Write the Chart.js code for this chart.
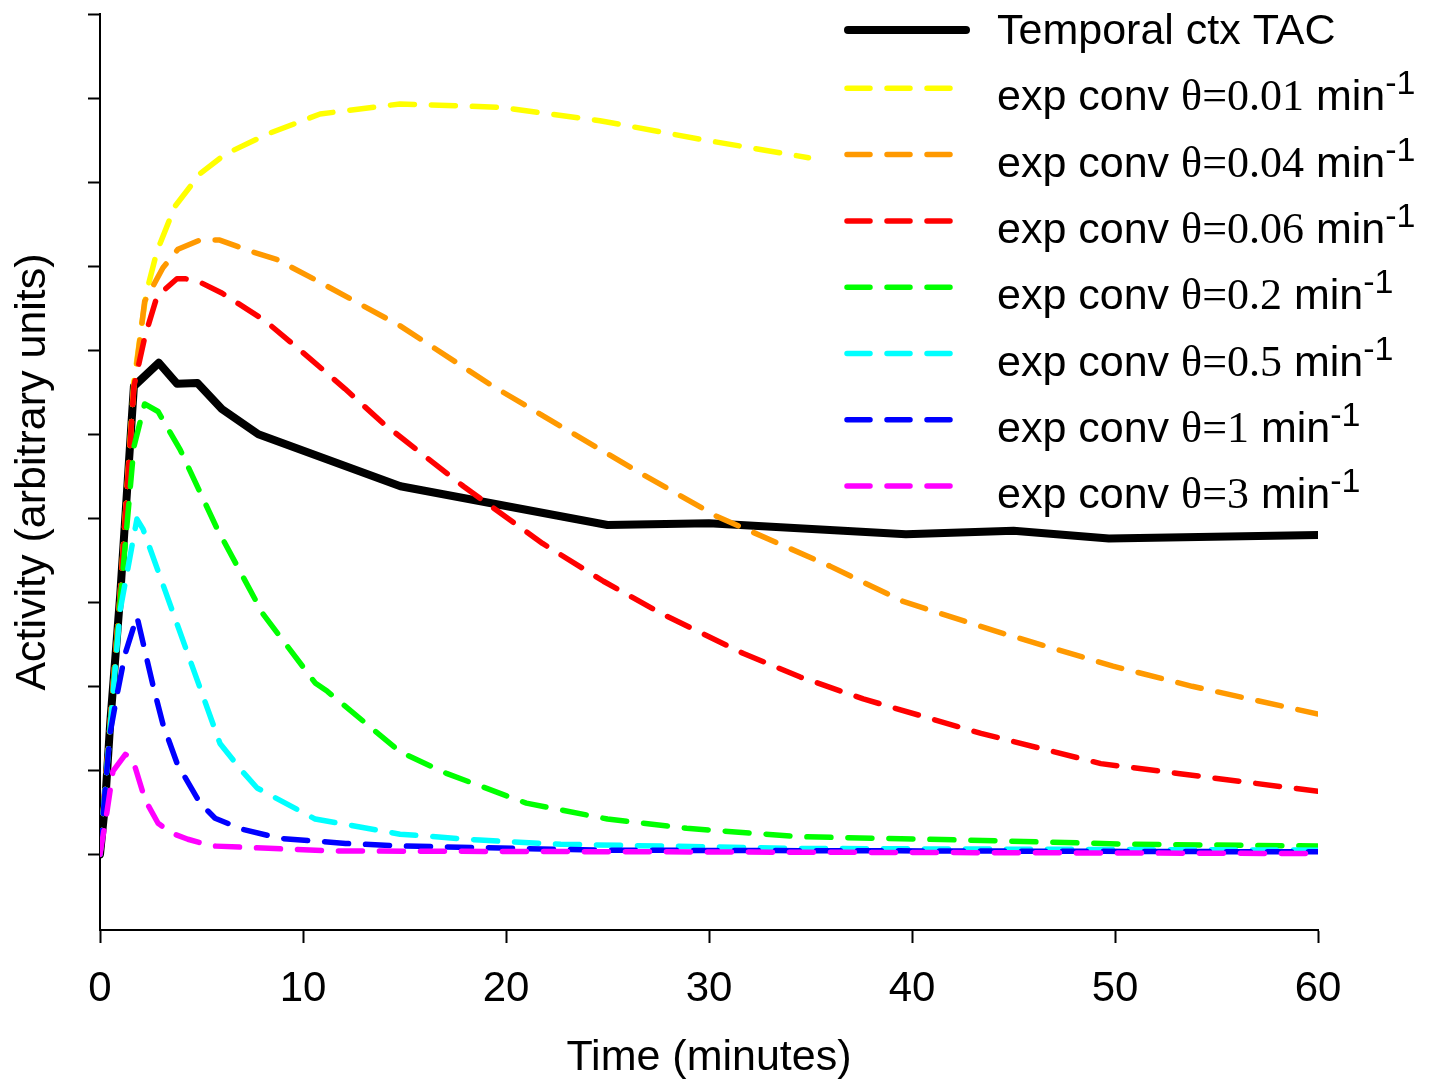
<!DOCTYPE html>
<html>
<head>
<meta charset="utf-8">
<title>Temporal ctx TAC</title>
<script src="https://cdn.jsdelivr.net/npm/chart.js@4.4.1/dist/chart.umd.min.js"></script>
<style>
  html, body { margin: 0; padding: 0; background: #fff; }
  canvas { display: block; }
</style>
</head>
<body>
<canvas id="myChart" width="1429" height="1080"></canvas>
<script>
// Temporal cortex time-activity curve (minutes, arbitrary units)
const tacTime  = [0, 0.25, 0.5, 1, 1.67, 2.9, 3.8, 4.8, 6, 7.8, 14.8, 25, 30, 39.7, 45, 49.7, 60];
const tacValue = [0, 0.6, 1.55, 3.1, 5.57, 5.85, 5.6, 5.61, 5.3, 5.0, 4.38, 3.92, 3.94, 3.81, 3.85, 3.76, 3.8];

// exponential convolutions of the TAC, one per theta
const conv001Time  = [0, 0.5, 0.99, 1.67, 2.27, 2.81, 3.69, 4.93, 6.16, 8.23, 10.84, 14.78, 19.7, 24.63, 29.56, 34.9];
const conv001Value = [0, 1.55, 3.07, 5.63, 6.67, 7.18, 7.71, 8.10, 8.33, 8.57, 8.81, 8.93, 8.89, 8.73, 8.51, 8.29];

const conv004Time  = [0, 0.5, 0.99, 1.67, 2.2, 3.1, 3.84, 4.93, 5.9, 7.39, 8.7, 10.74, 14.78, 19.36, 22.66, 26.6, 30.4, 35.96, 39.56, 44.2, 49.9, 53.8, 60];
const conv004Value = [0, 1.55, 3.07, 5.57, 6.58, 6.98, 7.2, 7.31, 7.31, 7.18, 7.08, 6.82, 6.29, 5.57, 5.10, 4.54, 4.02, 3.43, 3.01, 2.65, 2.24, 2.0, 1.67];

const conv006Time  = [0, 0.5, 0.99, 1.67, 2.22, 2.81, 3.79, 4.19, 4.83, 6.0, 8.13, 10.1, 12.07, 13.94, 17.9, 21.8, 24.8, 27.7, 31.7, 34.5, 37.6, 43.4, 49.3, 53.2, 60];
const conv006Value = [0, 1.55, 3.07, 5.57, 6.17, 6.64, 6.85, 6.85, 6.82, 6.68, 6.35, 5.95, 5.54, 5.13, 4.38, 3.70, 3.25, 2.86, 2.39, 2.11, 1.85, 1.44, 1.08, 0.96, 0.75];

const conv02Time  = [0, 0.5, 0.99, 1.67, 2.2, 2.86, 3.94, 5.76, 8.03, 10.6, 11.2, 14.78, 17.1, 21.0, 25, 28.9, 34.5, 42.7, 50.9, 60];
const conv02Value = [0, 1.5, 3.0, 4.85, 5.36, 5.27, 4.82, 3.88, 2.86, 2.04, 1.94, 1.22, 0.96, 0.61, 0.42, 0.31, 0.21, 0.17, 0.12, 0.10];

const conv05Time  = [0, 0.5, 0.99, 1.82, 2.12, 5.91, 7.0, 7.74, 10.6, 14.78, 18.7, 22.7, 34.5, 60];
const conv05Value = [0, 1.5, 2.9, 3.99, 3.87, 1.32, 0.99, 0.79, 0.42, 0.24, 0.17, 0.12, 0.07, 0.05];

const conv1Time  = [0, 0.25, 0.49, 0.84, 1.23, 1.82, 2.6, 3.1, 3.8, 4.93, 5.67, 7.0, 8.87, 12.1, 14.8, 24.6, 60];
const conv1Value = [0, 0.75, 1.43, 1.9, 2.38, 2.83, 2.02, 1.55, 1.08, 0.61, 0.43, 0.30, 0.19, 0.13, 0.10, 0.05, 0.03];

const conv3Time  = [0, 0.34, 0.64, 1.25, 1.6, 2.22, 2.86, 3.55, 4.33, 5.5, 11.5, 60];
const conv3Value = [0, 0.5, 0.99, 1.19, 1.14, 0.65, 0.37, 0.25, 0.18, 0.10, 0.04, 0.01];

const thetas  = ['0.01', '0.04', '0.06', '0.2', '0.5', '1', '3'];
const colours = ['#ffff00', '#ff9900', '#ff0000', '#00ff00', '#00ffff', '#0000ff', '#ff00ff'];
const convTimes  = [conv001Time, conv004Time, conv006Time, conv02Time, conv05Time, conv1Time, conv3Time];
const convValues = [conv001Value, conv004Value, conv006Value, conv02Value, conv05Value, conv1Value, conv3Value];

const xTicks = [0, 10, 20, 30, 40, 50, 60];
const yTicks = [0, 1, 2, 3, 4, 5, 6, 7, 8, 9, 10];

const SANS  = '"Liberation Sans", Arial, Helvetica, sans-serif';
const SERIF = '"Liberation Serif", "Times New Roman", serif';
const DASH = [24, 17];

function toPoints(ts, vs) {
  return ts.map((t, i) => ({ x: t, y: vs[i] }));
}

const datasets = [{
  label: 'Temporal ctx TAC',
  data: toPoints(tacTime, tacValue),
  borderColor: '#000',
  borderWidth: 8,
  borderJoinStyle: 'round',
  borderCapStyle: 'round',
  order: thetas.length + 1
}];
thetas.forEach((th, i) => {
  datasets.push({
    label: 'exp conv \u03b8=' + th + ' min-1',
    data: toPoints(convTimes[i], convValues[i]),
    borderColor: colours[i],
    borderWidth: 5.5,
    borderDash: DASH,
    borderCapStyle: 'round',
    borderJoinStyle: 'round',
    order: thetas.length - i
  });
});

// legend drawn on the canvas: mixed fonts and a superscript
const legendBox = {
  id: 'legendBox',
  afterDraw(chart) {
    const ctx = chart.ctx;
    const textX = 997;
    ctx.save();
    chart.data.datasets.forEach((ds, i) => {
      const base = 44 + 66.3 * i;
      ctx.lineCap = 'round';
      ctx.strokeStyle = ds.borderColor;
      ctx.beginPath();
      if (i === 0) {
        ctx.lineWidth = 8;
        ctx.setLineDash([]);
        ctx.moveTo(848, base - 14);
        ctx.lineTo(966, base - 14);
      } else {
        ctx.lineWidth = 5.5;
        ctx.setLineDash([23, 17]);
        ctx.moveTo(847, base - 22);
        ctx.lineTo(955, base - 22);
      }
      ctx.stroke();

      ctx.fillStyle = '#000';
      ctx.textBaseline = 'alphabetic';
      ctx.textAlign = 'left';
      if (i === 0) {
        ctx.font = '43px ' + SANS;
        ctx.fillText(ds.label, textX, base);
        return;
      }
      let x = textX;
      const parts = [
        ['exp conv ', '43px ' + SANS, 0],
        ['\u03b8=' + thetas[i - 1], '44px ' + SERIF, 0],
        [' min', '43px ' + SANS, 0],
        ['-1', '34px ' + SANS, -16]
      ];
      parts.forEach(([txt, font, dy]) => {
        ctx.font = font;
        ctx.fillText(txt, x, base + dy);
        x += ctx.measureText(txt).width;
      });
    });
    ctx.restore();
  }
};

const myChart = new Chart(document.getElementById('myChart'), {
  type: 'line',
  data: { datasets },
  options: {
    responsive: false,
    animation: false,
    devicePixelRatio: 1,
    layout: { padding: { top: 14, right: 111, left: 0, bottom: 0 } },
    elements: { point: { radius: 0 }, line: { tension: 0 } },
    plugins: { legend: { display: false }, tooltip: { enabled: false } },
    scales: {
      x: {
        type: 'linear',
        min: 0,
        max: 60,
        afterBuildTicks: s => { s.ticks = xTicks.map(v => ({ value: v })); },
        afterFit: s => { s.height = 150; },
        border: { color: '#000', width: 2 },
        grid: { drawOnChartArea: false, tickLength: 13, tickWidth: 2, tickColor: '#000' },
        ticks: { color: '#000', padding: 21, maxRotation: 0, font: { family: SANS, size: 42 } },
        title: {
          display: true,
          text: 'Time (minutes)',
          color: '#000',
          font: { family: SANS, size: 43, lineHeight: 1.0 },
          padding: { top: 0, bottom: 0 }
        }
      },
      y: {
        type: 'linear',
        min: -0.9,
        max: 10,
        afterBuildTicks: s => { s.ticks = yTicks.map(v => ({ value: v })); },
        afterFit: s => { s.width = 100; },
        border: { color: '#000', width: 2 },
        grid: { drawOnChartArea: false, tickLength: 12, tickWidth: 2, tickColor: '#000' },
        ticks: { display: false },
        title: {
          display: true,
          text: 'Activity (arbitrary units)',
          color: '#000',
          font: { family: SANS, size: 43, lineHeight: 1.1 },
          padding: { top: 9, bottom: 0 }
        }
      }
    }
  },
  plugins: [legendBox]
});
</script>
</body>
</html>
